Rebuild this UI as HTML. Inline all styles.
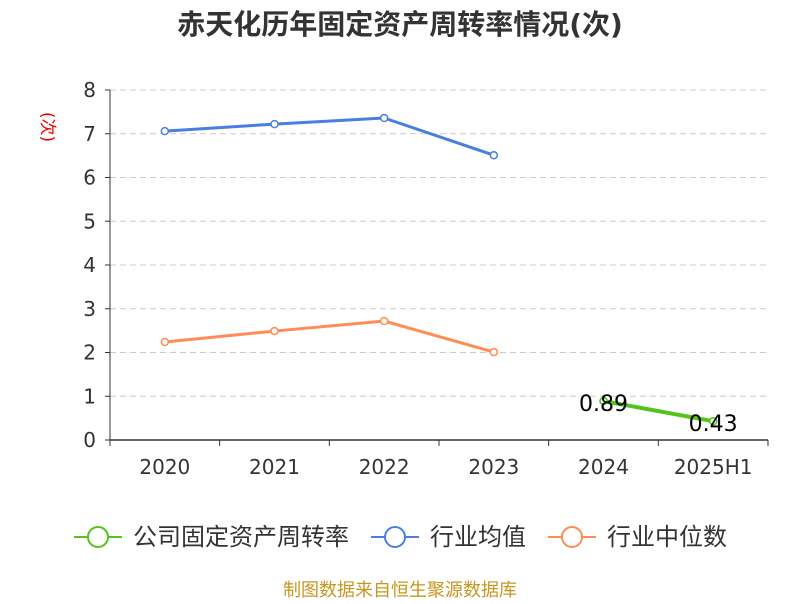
<!DOCTYPE html>
<html><head><meta charset="utf-8"><style>
body{margin:0;background:#fff;font-family:"DejaVu Sans","Noto Sans CJK SC",sans-serif;}
</style></head><body>
<svg width="800" height="600" xmlns="http://www.w3.org/2000/svg" font-family="DejaVu Sans, Noto Sans CJK SC, sans-serif">
<text x="400" y="34" text-anchor="middle" font-size="28" font-weight="bold" fill="#333">赤天化历年固定资产周转率情况(次)</text>
<text transform="translate(42,127) rotate(90)" text-anchor="middle" font-size="17" fill="#e00">(次)</text>
<g id="grid"></g><g id="axes"></g><g id="series"></g>
<g>
<g><line x1="74" y1="537" x2="122" y2="537" stroke="#52c41a" stroke-width="2"/><circle cx="98" cy="537" r="10" fill="#fff" stroke="#52c41a" stroke-width="2"/><text x="133" y="545" font-size="24" fill="#333">公司固定资产周转率</text></g>
<g><line x1="371" y1="537" x2="419" y2="537" stroke="#4a7fe0" stroke-width="2"/><circle cx="395" cy="537" r="10" fill="#fff" stroke="#4a7fe0" stroke-width="2"/><text x="430" y="545" font-size="24" fill="#333">行业均值</text></g>
<g><line x1="548" y1="537" x2="596" y2="537" stroke="#ff8c55" stroke-width="2"/><circle cx="572" cy="537" r="10" fill="#fff" stroke="#ff8c55" stroke-width="2"/><text x="607" y="545" font-size="24" fill="#333">行业中位数</text></g>
</g>
<text x="400" y="596" text-anchor="middle" font-size="18" fill="#c8961e">制图数据来自恒生聚源数据库</text>
</svg>
<script>
const categories=["2020","2021","2022","2023","2024","2025H1"];
const yTicks=[0,1,2,3,4,5,6,7,8];
const companyVals=[null,null,null,null,0.89,0.43];
const meanVals=[7.06,7.22,7.36,6.51,null,null];
const medianVals=[2.24,2.49,2.72,2.01,null,null];
const NS="http://www.w3.org/2000/svg";
const L=110,R=768,T=90,B=440;
const bw=(R-L)/categories.length;
const x=i=>L+bw*(i+0.5);
const y=v=>B-(v/8)*(B-T);
function mk(tag,attrs,parent){const e=document.createElementNS(NS,tag);for(const k in attrs)e.setAttribute(k,attrs[k]);document.getElementById(parent).appendChild(e);return e;}
yTicks.forEach(t=>{
  if(t>0){const g=mk('line',{x1:L,x2:R,y1:y(t),y2:y(t),stroke:'#ccc','stroke-dasharray':'6,4'},'grid');
  
  }
  const tk=mk('line',{x1:L-5,x2:L,y1:y(t),y2:y(t),stroke:'#333'},'axes');
  
  
  const tx=mk('text',{x:L-14,y:y(t)+7,'text-anchor':'end','font-size':20,fill:'#333'},'axes');tx.textContent=t;
  
  
});
const ya=mk('line',{x1:L,x2:L,y1:T,y2:B,stroke:'#333'},'axes');


const xa=mk('line',{x1:L,x2:R,y1:B,y2:B,stroke:'#333','stroke-width':1.5},'axes');


for(let i=0;i<=categories.length;i++){const tk=mk('line',{x1:L+bw*i,x2:L+bw*i,y1:B,y2:B+6,stroke:'#333'},'axes');

}
categories.forEach((c,i)=>{const tx=mk('text',{x:x(i),y:B+34,'text-anchor':'middle','font-size':20,fill:'#333'},'axes');tx.textContent=c;

});
function series(vals,color,name,labels){
  const pts=vals.map((v,i)=>v==null?null:[x(i),y(v)]).filter(p=>p);
  const pl=mk('polyline',{points:pts.map(p=>p.join(',')).join(' '),fill:'none',stroke:color,'stroke-width':labels?4:3},'series');
  
  
  vals.forEach((v,i)=>{if(v==null)return;
    const c=mk('circle',{cx:x(i),cy:y(v),r:3.5,fill:'#fff',stroke:color,'stroke-width':1.5},'series');
    
    
    if(labels){const t=mk('text',{x:x(i),y:y(v)+10,'text-anchor':'middle','font-size':22,fill:'#000'},'series');t.textContent=v.toFixed(2);
    
    }
  });
}
series(meanVals,'#4a7fe0','industry-mean',false);
series(medianVals,'#ff8c55','industry-median',false);
series(companyVals,'#52c41a','company',true);
</script>
</body></html>
